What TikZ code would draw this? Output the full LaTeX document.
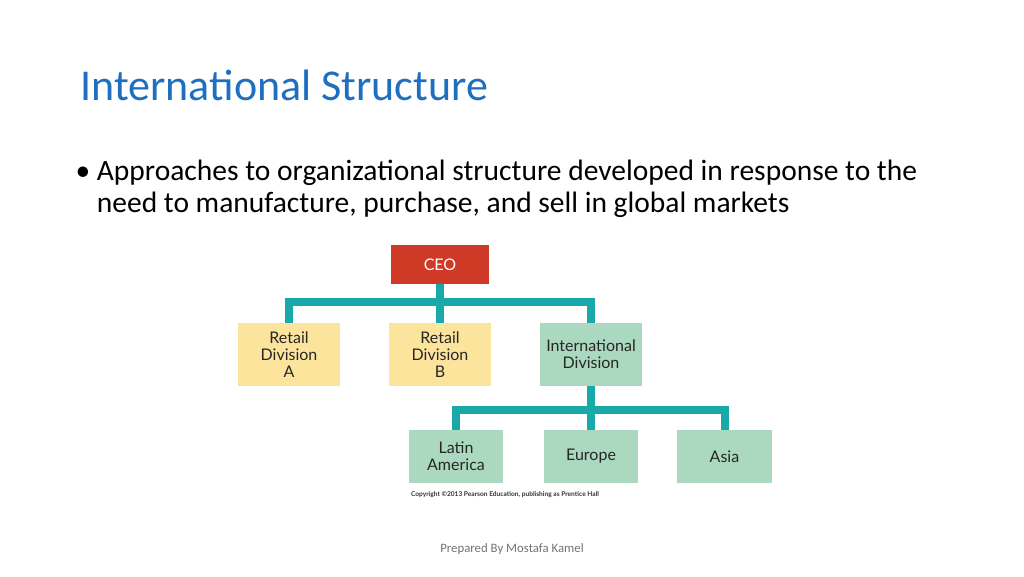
\documentclass[tikz,border=0pt]{standalone}
\usepackage{fontspec}
\setmainfont{Carlito}
\newfontfamily\boxfont{Lato}
\usetikzlibrary{positioning}
\definecolor{titleblue}{HTML}{1F6FC0}
\definecolor{ceored}{HTML}{CF3A27}
\definecolor{retailyellow}{HTML}{FDE49C}
\definecolor{intlgreen}{HTML}{AAD9BF}
\definecolor{barteal}{HTML}{19A9A9}
\begin{document}
\begin{tikzpicture}[x=1pt,y=-1pt]
 \tikzstyle{unit}=[rectangle, text=black!85, align=center, inner sep=0pt, font=\boxfont\fontsize{16}{17}\selectfont]
 \tikzstyle{bar}=[barteal, line width=8pt]
 \useasboundingbox (0,0) rectangle (1024,576);
 %
 \node[anchor=west, text=titleblue, font=\fontsize{44}{48}\selectfont] (title) at (77,85) {International Structure};
 \node[anchor=north west, align=left, font=\fontsize{29.5}{32}\selectfont] (bullet) at (72,156)
  {\textbullet\ Approaches to organizational structure developed in response to the\\
   \hphantom{\textbullet\ }need to manufacture, purchase, and sell in global markets};
 %
 \node[unit, fill=ceored, text=white, minimum width=98pt, minimum height=39pt] (CEO) at (440,264.5) {CEO};
 \node[unit, fill=retailyellow, minimum width=102pt, minimum height=63pt] (RA) at (289,354.5) {Retail\\Division\\A};
 \node[unit, fill=retailyellow, minimum width=102pt, minimum height=63pt] (RB) at (440,354.5) {Retail\\Division\\B};
 \node[unit, fill=intlgreen, minimum width=102pt, minimum height=63pt] (ID) at (591,354.5) {International\\Division};
 %
 \node[unit, fill=intlgreen, minimum width=94pt, minimum height=53pt] (LA) at (456,456.5) {Latin\\America};
 \node[unit, fill=intlgreen, minimum width=94pt, minimum height=53pt] (EU) at (591,456.5) {Europe};
 \node[unit, fill=intlgreen, minimum width=95pt, minimum height=53pt] (AS) at (724.5,456.5) {Asia};
 %
 \coordinate (top) at (440,302);
 \coordinate (low) at (591,410);
 \draw[bar] (RA.north) |- (top) -| (ID.north);
 \draw[bar] (CEO.south) -- (RB.north);
 \draw[bar] (LA.north) |- (low) -| (AS.north);
 \draw[bar] (ID.south) -- (EU.north);
 %
 \node[font=\boxfont\bfseries\fontsize{6.6}{7}\selectfont, text=black!80] (copy) at (505,495) {Copyright ©2013 Pearson Education, publishing as Prentice Hall};
 \node[text=black!55, font=\fontsize{12.8}{14}\selectfont] (footer) at (512,549) {Prepared By Mostafa Kamel};
\end{tikzpicture}
\end{document}
